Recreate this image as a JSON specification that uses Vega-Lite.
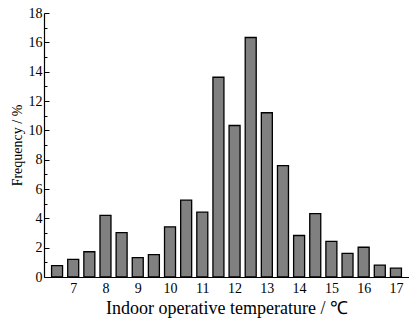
{
  "$schema": "https://vega.github.io/schema/vega-lite/v6.json",
  "width": 365,
  "height": 264,
  "autosize": {"type": "none"},
  "padding": {"left": 44, "top": 13, "right": 0, "bottom": 50},
  "background": "white",
  "config": {
    "font": "Liberation Serif",
    "view": {"stroke": null},
    "axis": {"labelFont": "Liberation Serif", "titleFont": "Liberation Serif", "labelColor": "black", "titleColor": "black", "domainColor": "black", "tickColor": "black", "grid": false, "titleFontWeight": "normal"}
  },
  "data": {"values": [
    {"t": 6.5, "f": 0.78},
    {"t": 7.0, "f": 1.2},
    {"t": 7.5, "f": 1.72},
    {"t": 8.0, "f": 4.2},
    {"t": 8.5, "f": 3.02},
    {"t": 9.0, "f": 1.32},
    {"t": 9.5, "f": 1.53},
    {"t": 10.0, "f": 3.42},
    {"t": 10.5, "f": 5.24},
    {"t": 11.0, "f": 4.42},
    {"t": 11.5, "f": 13.62},
    {"t": 12.0, "f": 10.33},
    {"t": 12.5, "f": 16.33},
    {"t": 13.0, "f": 11.2},
    {"t": 13.5, "f": 7.6},
    {"t": 14.0, "f": 2.83},
    {"t": 14.5, "f": 4.32},
    {"t": 15.0, "f": 2.43},
    {"t": 15.5, "f": 1.61},
    {"t": 16.0, "f": 2.03},
    {"t": 16.5, "f": 0.81},
    {"t": 17.0, "f": 0.6}
  ]},
  "layer": [
    {
      "mark": {"type": "bar", "width": 11, "fill": "#808080", "stroke": "black", "strokeWidth": 1.3},
      "encoding": {
        "x": {"field": "t", "type": "quantitative", "scale": {"domain": [6.25, 17.25], "nice": false, "zero": false},
          "axis": {"orient": "bottom", "values": [7, 8, 9, 10, 11, 12, 13, 14, 15, 16, 17], "title": "Indoor operative temperature / ℃", "titleFont": "Liberation Serif", "labelFont": "Liberation Serif", "titleFontSize": 18, "labelFontSize": 14, "tickSize": -5, "tickWidth": 1, "labelPadding": 9, "titlePadding": 4, "domainWidth": 1.2, "labelFlush": false}},
        "y": {"field": "f", "type": "quantitative", "scale": {"domain": [0, 18], "nice": false},
          "axis": {"orient": "left", "values": [0, 2, 4, 6, 8, 10, 12, 14, 16, 18], "title": "Frequency / %", "titleFont": "Liberation Serif", "labelFont": "Liberation Serif", "titleFontSize": 14, "labelFontSize": 14, "tickSize": -5, "tickWidth": 1, "labelPadding": 7, "titlePadding": 4, "domainWidth": 1.2, "labelFlush": false}}
      }
    },
    {
      "mark": {"type": "bar", "width": 11, "opacity": 0},
      "encoding": {
        "x": {"field": "t", "type": "quantitative", "scale": {"domain": [6.25, 17.25], "nice": false, "zero": false},
          "axis": {"orient": "bottom", "values": [6.5, 7.5, 8.5, 9.5, 10.5, 11.5, 12.5, 13.5, 14.5, 15.5, 16.5], "labels": false, "title": null, "tickSize": -3, "tickWidth": 1, "domain": false}},
        "y": {"field": "f", "type": "quantitative", "scale": {"domain": [0, 18], "nice": false},
          "axis": {"orient": "left", "values": [1, 3, 5, 7, 9, 11, 13, 15, 17], "labels": false, "title": null, "tickSize": -3, "tickWidth": 1, "domain": false}}
      }
    }
  ],
  "resolve": {"scale": {"x": "independent", "y": "independent"}, "axis": {"x": "independent", "y": "independent"}}
}
